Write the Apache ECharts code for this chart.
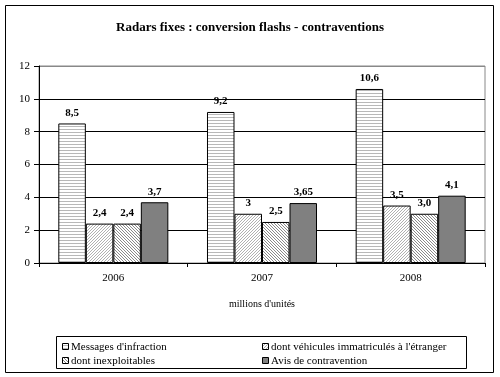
<!DOCTYPE html>
<html>
<head>
<meta charset="utf-8">
<script src="https://cdn.jsdelivr.net/npm/echarts@6/dist/echarts.min.js"></script>
<style>
  html, body { margin: 0; padding: 0; background: #fff; }
  #chart { width: 500px; height: 377px; }
</style>
</head>
<body>
<div id="chart"></div>
<script>
// données (millions d'unités)
var years = ['2006', '2007', '2008']
var seriesNames = ['Messages d\'infraction', 'dont véhicules immatriculés à l\'étranger', 'dont inexploitables', 'Avis de contravention']
var messages = [8.5, 9.2, 10.6]
var etranger = [2.4, 3, 3.5]
var inexploitables = [2.4, 2.5, 3.0]
var avis = [3.7, 3.65, 4.1]
// étiquettes telles qu'affichées
var messagesLabels = ['8,5', '9,2', '10,6']
var etrangerLabels = ['2,4', '3', '3,5']
var inexploitablesLabels = ['2,4', '2,5', '3,0']
var avisLabels = ['3,7', '3,65', '4,1']

var serif = 'Liberation Serif'

// motifs de remplissage
function makePattern (type) {
    var c = document.createElement('canvas')
    var ctx = c.getContext('2d')
    if (type === 'hlines') {
        c.width = 4; c.height = 3
        ctx.fillStyle = '#fff'
        ctx.fillRect(0, 0, 4, 3)
        ctx.fillStyle = '#b8b8b8'
        ctx.fillRect(0, 0, 4, 1)
    } else {
        c.width = 3; c.height = 3
        ctx.fillStyle = '#fff'
        ctx.fillRect(0, 0, 3, 3)
        ctx.fillStyle = type === 'up' ? '#b0b0b0' : '#8a8a8a'
        for (var i = 0; i < 3; i++) {
            if (type === 'up') {
                ctx.fillRect(i, 2 - i, 1, 1)
            } else {
                ctx.fillRect(i, i, 1, 1)
            }
        }
    }
    return { image: c, repeat: 'repeat' }
}

var fills = [makePattern('hlines'), makePattern('up'), makePattern('down'), '#808080']
var allValues = [messages, etranger, inexploitables, avis]
var allLabels = [messagesLabels, etrangerLabels, inexploitablesLabels, avisLabels]

var series = seriesNames.map(function (name, k) {
    return {
        name: name,
        type: 'bar',
        barGap: '0%',
        barCategoryGap: '26%',
        data: allValues[k],
        itemStyle: { color: fills[k], borderColor: '#000', borderWidth: 1 },
        label: {
            show: true,
            position: 'top',
            distance: 5,
            color: '#000',
            fontFamily: serif,
            fontSize: 11,
            fontWeight: 'bold',
            formatter: function (p) { return allLabels[k][p.dataIndex] }
        }
    }
})

// légende dessinée à la main (deux colonnes, police serif)
var legendPos = [[62, 347], [262, 347], [62, 361], [262, 361]]
var legendGraphics = []
seriesNames.forEach(function (name, k) {
    var x = legendPos[k][0]
    var y = legendPos[k][1]
    legendGraphics.push({
        type: 'rect',
        shape: { x: x + 0.5, y: y - 3.5, width: 6, height: 6 },
        style: { fill: fills[k], stroke: '#000', lineWidth: 1 },
        z: 100
    })
    legendGraphics.push({
        type: 'text',
        x: x + 9,
        y: y,
        style: { text: name, fill: '#000', fontFamily: serif, fontSize: 11, fontWeight: 'normal', verticalAlign: 'middle' },
        z: 100
    })
})

var myChart = echarts.init(document.getElementById('chart'))
myChart.setOption({
    animation: false,
    backgroundColor: '#fff',
    textStyle: { fontFamily: serif },
    title: {
        text: 'Radars fixes : conversion flashs - contraventions',
        left: 'center',
        top: 16,
        textStyle: { color: '#000', fontFamily: serif, fontSize: 13, fontWeight: 'bold' }
    },
    legend: { show: false, data: seriesNames },
    grid: {
        left: 39,
        right: 15,
        top: 66,
        bottom: 114,
        show: true,
        borderColor: '#888',
        borderWidth: 1
    },
    xAxis: {
        type: 'category',
        data: years,
        name: 'millions d\'unités',
        nameLocation: 'middle',
        nameGap: 36,
        nameTextStyle: { color: '#000', fontFamily: serif, fontSize: 10 },
        axisLine: { lineStyle: { color: '#000', width: 1 } },
        axisTick: { show: true, length: 4, lineStyle: { color: '#000' } },
        axisLabel: { color: '#000', fontFamily: serif, fontSize: 11, margin: 10 }
    },
    yAxis: {
        type: 'value',
        min: 0,
        max: 12,
        interval: 2,
        axisLine: { show: true, lineStyle: { color: '#000', width: 1 } },
        axisTick: { show: true, length: 5, lineStyle: { color: '#000' } },
        axisLabel: { color: '#000', fontFamily: serif, fontSize: 11, margin: 9 },
        splitLine: { show: true, lineStyle: { color: ['#000', '#000', '#000', '#000', '#000', '#000', '#888'], width: 1 } }
    },
    graphic: [
        {
            type: 'rect',
            shape: { x: 5.5, y: 5.5, width: 488, height: 367 },
            style: { fill: null, stroke: '#000', lineWidth: 1 },
            z: 100
        },
        {
            type: 'rect',
            shape: { x: 56.5, y: 336.5, width: 410, height: 32 },
            style: { fill: null, stroke: '#000', lineWidth: 1 },
            z: 100
        }
    ].concat(legendGraphics),
    series: series
})
</script>
</body>
</html>
